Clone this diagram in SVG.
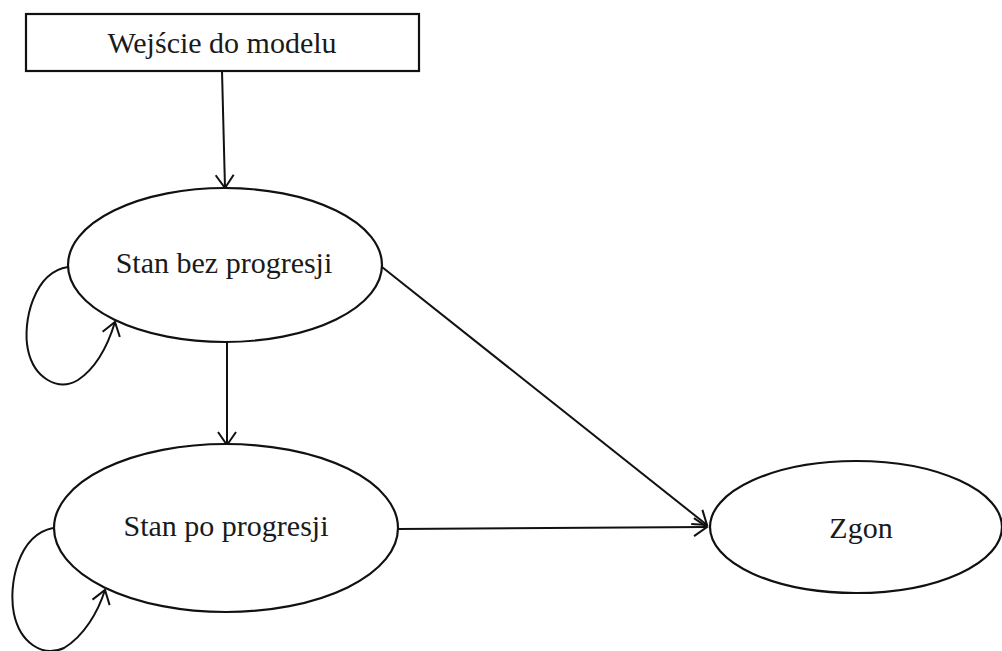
<svg xmlns="http://www.w3.org/2000/svg" width="1002" height="651" viewBox="0 0 1002 651">
<style>
.shape{fill:#fff;stroke:#111;stroke-width:2.2}
.lbl{font-family:"Liberation Serif","DejaVu Serif",serif;font-size:30px;fill:#1a1a1a;text-anchor:middle}
.edge{fill:none;stroke:#111;stroke-width:2}
</style>
<defs>
<marker id="arr" markerUnits="userSpaceOnUse" markerWidth="30" markerHeight="30" viewBox="-15 -15 30 30" refX="0" refY="0" orient="auto">
<path d="M-13,-9 L0,0 L-13,9" fill="none" stroke="#111" stroke-width="2"/>
</marker>
</defs>
<rect width="1002" height="651" fill="#fff"/>
<g id="connectors">
<path class="edge" d="M222,71 L225,188" marker-end="url(#arr)"/>
<path class="edge" d="M227,342 L227,445" marker-end="url(#arr)"/>
<path class="edge" d="M382,267 L707,525" marker-end="url(#arr)"/>
<path class="edge" d="M398,529 L707,527" marker-end="url(#arr)"/>
<path class="edge" d="M68,267 C34,272 22,322 28,350 C34,378 58,392 78,380 C96,368 108,345 115,322" marker-end="url(#arr)"/>
<path class="edge" d="M53,528 C18,535 8,585 14,614 C20,642 42,658 64,648 C84,636 98,612 105,590" marker-end="url(#arr)"/>
</g>
<g id="entry">
<rect class="shape" x="26" y="14" width="393" height="57"/>
<text class="lbl" x="222" y="53">Wejście do modelu</text>
</g>
<g id="no-progression">
<ellipse class="shape" cx="225" cy="265" rx="157" ry="77"/>
<text class="lbl" x="224" y="273">Stan bez progresji</text>
</g>
<g id="progression">
<ellipse class="shape" cx="226" cy="528" rx="172" ry="84"/>
<text class="lbl" x="226" y="536">Stan po progresji</text>
</g>
<g id="death">
<ellipse class="shape" cx="856" cy="527" rx="146" ry="66"/>
<text class="lbl" x="861" y="538">Zgon</text>
</g>
</svg>
